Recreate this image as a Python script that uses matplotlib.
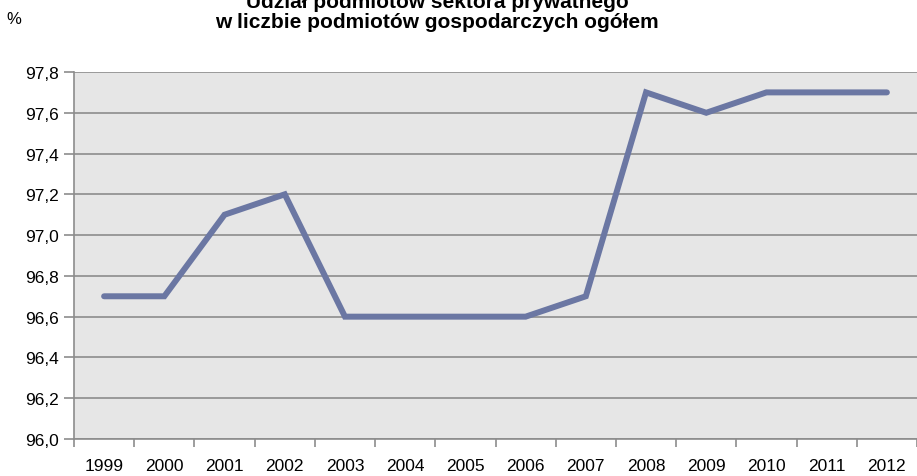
import matplotlib.pyplot as plt
from matplotlib.ticker import FuncFormatter, FixedLocator

plt.rcParams['font.family'] = ['Liberation Sans', 'DejaVu Sans']

years = ['1999', '2000', '2001', '2002', '2003', '2004', '2005',
         '2006', '2007', '2008', '2009', '2010', '2011', '2012']
share = [96.7, 96.7, 97.1, 97.2, 96.6, 96.6, 96.6,
         96.6, 96.7, 97.7, 97.6, 97.7, 97.7, 97.7]
y_ticks = [96.0, 96.2, 96.4, 96.6, 96.8, 97.0, 97.2, 97.4, 97.6, 97.8]


def main():
    fig = plt.figure(figsize=(9.17, 4.77), dpi=100)
    ax = fig.add_axes([74 / 917, 1 - 440 / 477, 843 / 917, 367 / 477])
    ax.set_facecolor('#e6e6e6')

    x = list(range(len(years)))
    ax.plot(x, share, color='#6b77a3', linewidth=4.3, solid_capstyle='round',
            solid_joinstyle='miter', zorder=3)

    ax.set_xlim(-0.5, len(years) - 0.5)
    ax.set_ylim(96.0, 97.8)
    ax.set_yticks(y_ticks)
    ax.yaxis.set_major_formatter(FuncFormatter(lambda v, p: f'{v:.1f}'.replace('.', ',')))
    ax.grid(axis='y', color='#8c8c8c', linewidth=1.2)
    ax.set_axisbelow(True)

    # os kategorii: etykiety na srodku, kreski pomiedzy
    ax.set_xticks(x)
    ax.set_xticklabels(years)
    ax.tick_params(axis='x', length=0, labelsize=12.5, pad=14, colors='black')
    ax.xaxis.set_minor_locator(FixedLocator([i - 0.5 for i in range(len(years) + 1)]))
    ax.tick_params(axis='x', which='minor', length=6, width=1.2, color='#8c8c8c')
    ax.tick_params(axis='y', length=7, width=1.2, color='#8c8c8c', labelsize=12.5, pad=4)

    for side in ['top', 'right']:
        ax.spines[side].set_visible(False)
    ax.spines['left'].set_color('#8c8c8c')
    ax.spines['left'].set_linewidth(1.2)
    ax.spines['bottom'].set_color('#8c8c8c')
    ax.spines['bottom'].set_linewidth(1.2)

    fig.text(437 / 917, 1 - 2 / 477, 'Udział podmiotów sektora prywatnego',
             ha='center', va='center', fontsize=15, fontweight='bold')
    fig.text(437 / 917, 1 - 22 / 477, 'w liczbie podmiotów gospodarczych ogółem',
             ha='center', va='center', fontsize=15, fontweight='bold')
    fig.text(14 / 917, 1 - 20 / 477, '%', ha='center', va='center', fontsize=12)

    fig.savefig('out.png', dpi=100)


if __name__ == '__main__':
    main()
